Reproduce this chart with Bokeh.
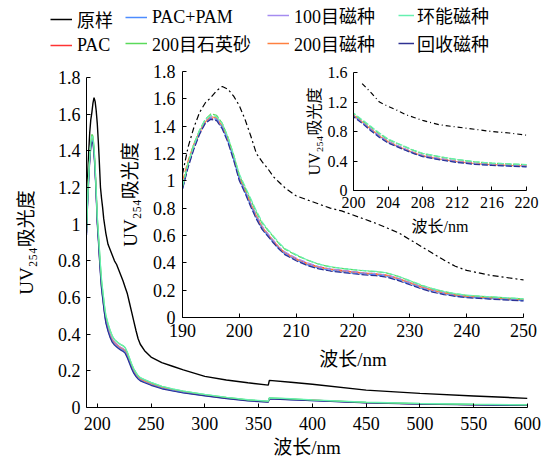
from bokeh.plotting import figure
from bokeh.models import Range1d, FixedTicker, Legend, LegendItem
from bokeh.layouts import column
from bokeh.embed import file_html
from bokeh.resources import INLINE

# ---------------- data ----------------
wl = [190, 191, 192, 193, 194, 195, 196, 197, 198, 199, 200, 201, 202, 203, 204, 205, 206, 207, 208,
      210, 212, 214, 216, 218, 220, 222, 224, 226, 228, 230, 232, 234, 236, 238, 240,
      244, 250, 260, 270, 280, 300, 320, 340, 359, 360, 380, 400, 450, 500, 550, 600]

raw = [1.05, 1.25, 1.39, 1.50, 1.57, 1.61, 1.66, 1.69, 1.67, 1.62, 1.55, 1.45, 1.33, 1.20, 1.14, 1.09, 1.03, 0.99, 0.95,
       0.89, 0.86, 0.83, 0.80, 0.78, 0.75, 0.72, 0.69, 0.655, 0.62, 0.57, 0.52, 0.47, 0.42, 0.375, 0.345,
       0.31, 0.275, 0.245, 0.225, 0.205, 0.17, 0.15, 0.135, 0.122, 0.148, 0.138, 0.127, 0.095, 0.077, 0.063, 0.05]

pac = [0.95, 1.12, 1.25, 1.35, 1.43, 1.46, 1.45, 1.40, 1.30, 1.17, 1.02, 0.93, 0.83, 0.74, 0.66, 0.61, 0.56, 0.51, 0.475,
       0.43, 0.395, 0.37, 0.355, 0.345, 0.335, 0.325, 0.32, 0.31, 0.285, 0.255, 0.225, 0.20, 0.18, 0.165, 0.155,
       0.145, 0.13, 0.11, 0.097, 0.085, 0.068, 0.052, 0.04, 0.032, 0.05, 0.045, 0.04, 0.027, 0.02, 0.016, 0.013]

pac_pam = [0.94, 1.11, 1.24, 1.35, 1.42, 1.46, 1.45, 1.39, 1.29, 1.16, 1.01, 0.92, 0.82, 0.73, 0.65, 0.60, 0.55, 0.50, 0.465,
           0.42, 0.385, 0.36, 0.345, 0.335, 0.325, 0.318, 0.312, 0.30, 0.275, 0.245, 0.215, 0.19, 0.172, 0.158, 0.148,
           0.138, 0.124, 0.105, 0.092, 0.081, 0.064, 0.049, 0.037, 0.030, 0.048, 0.043, 0.038, 0.026, 0.019, 0.015, 0.012]

quartz200 = [0.96, 1.13, 1.27, 1.37, 1.45, 1.49, 1.48, 1.42, 1.32, 1.19, 1.04, 0.95, 0.86, 0.77, 0.69, 0.64, 0.59, 0.54, 0.50,
             0.455, 0.42, 0.39, 0.37, 0.36, 0.35, 0.342, 0.336, 0.325, 0.30, 0.268, 0.236, 0.21, 0.19, 0.173, 0.162,
             0.151, 0.136, 0.115, 0.101, 0.089, 0.071, 0.055, 0.042, 0.034, 0.052, 0.047, 0.041, 0.028, 0.021, 0.017, 0.014]

mag100 = [0.95, 1.12, 1.26, 1.36, 1.44, 1.47, 1.46, 1.40, 1.30, 1.17, 1.02, 0.93, 0.84, 0.75, 0.67, 0.615, 0.565, 0.515, 0.48,
          0.435, 0.40, 0.372, 0.356, 0.346, 0.336, 0.327, 0.321, 0.311, 0.287, 0.257, 0.227, 0.202, 0.182, 0.167, 0.157,
          0.147, 0.131, 0.111, 0.098, 0.086, 0.068, 0.052, 0.04, 0.032, 0.05, 0.045, 0.04, 0.027, 0.02, 0.016, 0.013]

mag200 = [1.00, 1.15, 1.27, 1.36, 1.43, 1.47, 1.46, 1.40, 1.30, 1.17, 1.02, 0.93, 0.83, 0.74, 0.66, 0.605, 0.555, 0.51, 0.47,
          0.425, 0.39, 0.365, 0.35, 0.34, 0.33, 0.322, 0.316, 0.306, 0.282, 0.252, 0.222, 0.198, 0.178, 0.163, 0.153,
          0.143, 0.128, 0.108, 0.095, 0.083, 0.066, 0.051, 0.039, 0.031, 0.049, 0.044, 0.039, 0.026, 0.019, 0.015, 0.012]

huanneng = [0.96, 1.13, 1.26, 1.37, 1.45, 1.48, 1.47, 1.42, 1.32, 1.19, 1.05, 0.96, 0.87, 0.78, 0.70, 0.645, 0.595, 0.545, 0.505,
            0.46, 0.42, 0.39, 0.372, 0.36, 0.35, 0.343, 0.338, 0.327, 0.302, 0.27, 0.238, 0.211, 0.19, 0.174, 0.163,
            0.152, 0.137, 0.116, 0.102, 0.09, 0.072, 0.056, 0.043, 0.035, 0.053, 0.048, 0.042, 0.029, 0.022, 0.018, 0.015]

recycled = [0.94, 1.10, 1.23, 1.34, 1.42, 1.45, 1.44, 1.38, 1.28, 1.15, 1.00, 0.91, 0.81, 0.72, 0.645, 0.595, 0.545, 0.50, 0.46,
            0.415, 0.38, 0.355, 0.34, 0.33, 0.32, 0.312, 0.306, 0.295, 0.27, 0.24, 0.21, 0.186, 0.168, 0.155, 0.145,
            0.135, 0.121, 0.102, 0.09, 0.079, 0.063, 0.048, 0.036, 0.029, 0.047, 0.042, 0.037, 0.025, 0.018, 0.014, 0.011]

names = ["原样", "PAC", "PAC+PAM", "200目石英砂", "100目磁种", "200目磁种", "环能磁种", "回收磁种"]
series = [raw, pac, pac_pam, quartz200, mag100, mag200, huanneng, recycled]
colors = ["#000000", "#ff3333", "#4d8cff", "#5ada5a", "#a58cf0", "#ff8040", "#66f0b0", "#2e3192"]
draw_order = [0, 1, 4, 5, 2, 7, 3, 6]

main_xticks = [200, 250, 300, 350, 400, 450, 500, 550, 600]
main_yticks = [0, 0.2, 0.4, 0.6, 0.8, 1.0, 1.2, 1.4, 1.6, 1.8]
in1_xticks = [190, 200, 210, 220, 230, 240, 250]
in2_xticks = [200, 204, 208, 212, 216, 220]
in2_yticks = [0, 0.4, 0.8, 1.2, 1.6]
in2_start = 201  # the untreated curve of the small inset begins here

FONT = "Liberation Serif, Noto Sans CJK SC"
YLABEL = "UV₂₅₄吸光度"
XLABEL = "波长/nm"
B_LEFT = 86   # common left border (column children share it)
B_RIGHT = 14  # common right border


def style(p, xt, yt, tick_size, lab_size, xls, yls, xts, yts, transparent):
    p.xgrid.visible = False
    p.ygrid.visible = False
    p.outline_line_color = None
    if transparent:
        p.background_fill_alpha = 0
        p.border_fill_alpha = 0
    p.xaxis.ticker = FixedTicker(ticks=xt)
    p.yaxis.ticker = FixedTicker(ticks=yt)
    p.yaxis.major_label_overrides = {0: "0"}
    for ax in (p.xaxis[0], p.yaxis[0]):
        ax.axis_line_color = "black"
        ax.axis_line_width = 1
        ax.major_tick_in = 4
        ax.major_tick_out = 0
        ax.major_tick_line_color = "black"
        ax.minor_tick_line_color = None
        ax.major_label_text_font = FONT
        ax.major_label_text_font_size = f"{tick_size}px"
        ax.major_label_text_color = "black"
        ax.axis_label_text_font = FONT
        ax.axis_label_text_font_style = "normal"
        ax.axis_label_text_font_size = f"{lab_size}px"
        ax.axis_label_text_color = "black"
    p.xaxis.axis_label = XLABEL
    p.yaxis.axis_label = YLABEL
    p.xaxis.axis_label_standoff = xls
    p.yaxis.axis_label_standoff = yls
    p.xaxis.major_label_standoff = xts
    p.yaxis.major_label_standoff = yts


# ---------------- main plot ----------------
main = figure(frame_width=441, frame_height=330, x_range=Range1d(190, 600), y_range=Range1d(0, 1.8),
              min_border_left=B_LEFT, min_border_right=B_RIGHT, min_border_top=77, min_border_bottom=56,
              output_backend="svg", toolbar_location=None)
style(main, main_xticks, main_yticks, 18, 19, 4, 18, 9, 6, False)

for i in draw_order:
    main.line(wl, series[i], line_color=colors[i], line_width=1.4 if i == 0 else 1.2)

# ---------------- inset 1 ----------------
in1 = figure(frame_width=341, frame_height=246, x_range=Range1d(190, 250), y_range=Range1d(0, 1.8),
             min_border_left=B_LEFT, min_border_right=B_RIGHT, min_border_top=9, min_border_bottom=60,
             output_backend="svg", toolbar_location=None, margin=(-401, 0, 0, 96))
style(in1, in1_xticks, main_yticks, 18, 19, 9, 9, 6, 7, True)
for i in draw_order:
    in1.line(wl, series[i], line_color=colors[i], line_width=1.2,
             line_dash="6 3 2 3" if i == 0 else "7 2")

# ---------------- inset 2 ----------------
in2 = figure(frame_width=173, frame_height=118, x_range=Range1d(200, 220), y_range=Range1d(0, 1.6),
             min_border_left=B_LEFT, min_border_right=B_RIGHT, min_border_top=10, min_border_bottom=54,
             output_backend="svg", toolbar_location=None, margin=(-315, 0, 0, 267))
style(in2, in2_xticks, in2_yticks, 16, 16, 7, 2, 6, 6, True)
k = wl.index(in2_start)
for i in draw_order:
    if i == 0:
        in2.line(wl[k:], series[i][k:], line_color=colors[i], line_width=1.2, line_dash="5 3 1 3")
    else:
        in2.line(wl, series[i], line_color=colors[i], line_width=1.2, line_dash="6 2")

# ---------------- legend strip ----------------
lg = figure(frame_width=540, frame_height=62, x_range=Range1d(0, 1), y_range=Range1d(0, 1),
            min_border=0, x_axis_location=None, y_axis_location=None,
            output_backend="svg", toolbar_location=None, margin=(-244, 0, 0, 0))
lg.xgrid.visible = False
lg.ygrid.visible = False
lg.outline_line_color = None
lg.background_fill_alpha = 0
lg.border_fill_alpha = 0
key_rends = [lg.line([0, 1], [-5, -5], line_color=colors[i], line_width=1.5) for i in range(8)]

legend_cols = [(0, 1, 50, 22, 5), (2, 3, 125, 22, 5), (4, 5, 267, 22, 5), (6, 7, 398, 16, 3)]
for a, b, x0, gw, st in legend_cols:
    leg = Legend(items=[LegendItem(label=names[a], renderers=[key_rends[a]]),
                        LegendItem(label=names[b], renderers=[key_rends[b]])],
                 orientation="vertical", location=(x0, 6),
                 label_text_font=FONT, label_text_font_size="18px", label_text_color="black",
                 glyph_width=gw, glyph_height=22, label_height=22, label_standoff=st,
                 spacing=2, padding=0, margin=0, border_line_color=None, background_fill_alpha=0)
    lg.add_layout(leg, "center")

p = column(main, in1, in2, lg)
open("out.html", "w").write(file_html(p, INLINE))
